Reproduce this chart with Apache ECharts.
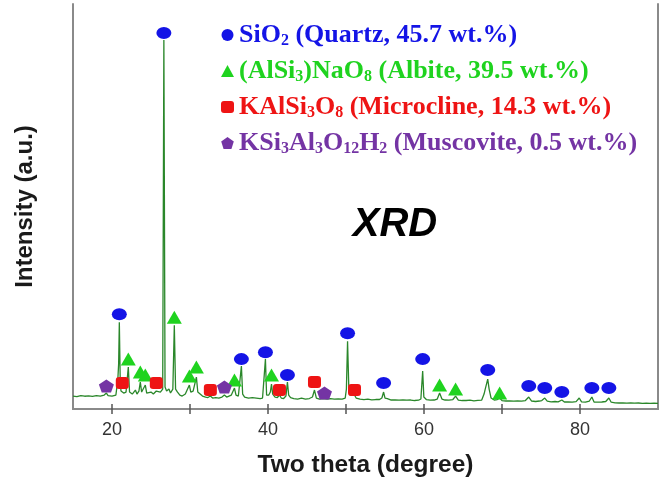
<!DOCTYPE html>
<html>
<head>
<meta charset="utf-8">
<title>XRD</title>
<script src="https://cdn.jsdelivr.net/npm/echarts@6/dist/echarts.min.js"></script>
<style>
  html, body { margin: 0; padding: 0; background: #fff; }
  #main { width: 666px; height: 483px; }
</style>
</head>
<body>
<div id="main"></div>
<script>
// measured XRD pattern, [2theta, intensity]
var trace = [
  [15.0,130],[15.5,125],[16.0,135],[16.5,128],[17.0,132],[17.5,126],[18.0,134],[18.5,128],
  [19.0,140],[19.28,160],[19.5,135],[20.0,128],[20.5,140],[20.75,300],[20.85,450],[20.94,870],
  [21.05,300],[21.15,180],[21.32,200],[21.5,160],[21.8,170],[22.09,420],[22.25,170],[22.6,150],
  [23.0,190],[23.2,150],[23.45,180],[23.63,270],[23.8,170],[24.0,200],[24.27,240],[24.45,160],
  [24.7,150],[25.0,170],[25.3,150],[25.68,180],[25.9,160],[26.2,170],[26.5,200],[26.65,3700],
  [26.8,220],[27.0,180],[27.3,200],[27.5,160],[27.8,200],[27.99,840],[28.15,200],[28.4,170],
  [28.7,140],[29.0,130],[29.4,150],[29.6,170],[29.92,240],[30.1,170],[30.4,180],[30.6,200],
  [30.82,320],[31.0,170],[31.3,150],[31.6,130],[32.0,120],[32.3,115],[32.61,130],[32.9,110],
  [33.3,115],[33.7,110],[34.1,120],[34.41,140],[34.7,120],[35.0,130],[35.3,140],[35.5,150],
  [35.7,210],[35.9,140],[36.2,130],[36.4,140],[36.59,430],[36.75,150],[37.0,120],[37.5,110],
  [38.0,115],[38.5,110],[39.0,105],[39.3,110],[39.5,130],[39.67,500],[39.82,140],[40.1,140],
  [40.3,170],[40.45,250],[40.6,150],[40.9,120],[41.2,115],[41.47,140],[41.7,110],[42.0,105],
  [42.3,130],[42.49,270],[42.65,140],[42.9,115],[43.3,105],[43.8,100],[44.3,108],[44.8,100],
  [45.3,105],[45.7,120],[45.96,190],[46.2,110],[46.6,100],[47.0,105],[47.24,110],[47.6,100],
  [48.0,104],[48.5,98],[49.0,102],[49.5,100],[49.9,110],[50.05,200],[50.2,680],[50.35,240],
  [50.5,140],[50.75,120],[51.09,140],[51.3,110],[51.8,100],[52.3,95],[52.8,98],[53.3,92],
  [53.8,95],[54.3,95],[54.6,110],[54.82,170],[55.0,110],[55.3,105],[55.8,90],[56.3,92],
  [56.8,88],[57.3,92],[57.8,88],[58.3,90],[58.8,85],[59.3,88],[59.6,100],[59.83,380],
  [59.98,120],[60.3,95],[60.8,88],[61.3,90],[61.7,100],[62.0,160],[62.3,100],[62.7,90],
  [63.2,88],[63.7,95],[64.05,130],[64.4,90],[64.9,85],[65.4,85],[65.9,88],[66.4,82],
  [66.9,86],[67.4,90],[67.7,150],[67.85,200],[68.0,220],[68.17,300],[68.35,200],[68.6,110],
  [69.0,90],[69.4,95],[69.7,110],[70.0,85],[70.5,80],[71.0,82],[71.5,78],[72.0,80],
  [72.5,78],[73.0,85],[73.43,120],[73.8,80],[74.3,75],[74.8,80],[75.1,85],[75.48,110],
  [75.8,78],[76.3,72],[76.8,75],[77.2,72],[77.67,90],[78.0,70],[78.5,72],[79.0,68],
  [79.5,74],[79.9,110],[80.2,72],[80.7,68],[81.2,80],[81.52,120],[81.8,70],[82.3,68],
  [82.8,70],[83.3,75],[83.7,110],[84.0,68],[84.5,62],[85.0,60],[85.5,62],[86.0,58],
  [86.5,60],[87.0,58],[87.5,60],[88.0,57],[88.5,58],[89.0,57],[89.5,58],[90.0,56]
];

// phase markers, [2theta, marker height]
var quartz = [[20.94,950],[26.65,3770],[36.59,500],[39.67,570],[42.49,340],[50.2,760],
  [54.82,260],[59.83,500],[68.17,390],[73.43,230],[75.48,210],[77.67,170],[81.52,210],[83.7,210]];
var albite = [[22.09,500],[23.63,370],[24.27,340],[27.99,920],[29.92,330],[30.82,420],
  [35.7,290],[40.45,340],[62.0,240],[64.05,200],[69.7,160]];
var microcline = [[21.32,260],[25.68,260],[32.61,190],[41.47,190],[45.96,270],[51.09,190]];
var muscovite = [[19.28,230],[34.41,220],[47.24,160]];

var phaseNames = ['Quartz', 'Albite', 'Microcline', 'Muscovite'];
var phaseLabels = [
  '{q|SiO}{qs|2}{q| (Quartz, 45.7 wt.%)}',
  '{a|(AlSi}{as|3}{a|)NaO}{as|8}{a| (Albite, 39.5 wt.%)}',
  '{m|KAlSi}{ms|3}{m|O}{ms|8}{m| (Microcline, 14.3 wt.%)}',
  '{k|KSi}{ks|3}{k|Al}{ks|3}{k|O}{ks|12}{k|H}{ks|2}{k| (Muscovite, 0.5 wt.%)}'
];
var xTicks = [20, 30, 40, 50, 60, 70, 80];
var xLabels = [20, 40, 60, 80];

var blue = '#1414e6', green = '#1fd31f', red = '#ee1414', purple = '#7434a4';
var pentagon = 'path://M0,-10L9.5,-3.1L5.9,8.1L-5.9,8.1L-9.5,-3.1Z';

function txt(c) {
  return { color: c, fontFamily: 'Liberation Serif', fontWeight: 'bold', fontSize: 26, lineHeight: 26 };
}
function sub(c) {
  return { color: c, fontFamily: 'Liberation Serif', fontWeight: 'bold', fontSize: 16, lineHeight: 16, padding: [12, 0, 0, 0] };
}

var frame = { show: true, lineStyle: { color: '#8a8a8a', width: 2 } };
var ticks = { show: true, inside: true, length: 5, customValues: xTicks, lineStyle: { color: '#555', width: 1.5 } };

var chart = echarts.init(document.getElementById('main'));
chart.setOption({
  animation: false,
  backgroundColor: '#fff',
  grid: { left: 73, right: 8, top: 4, bottom: 73 },
  legend: {
    orient: 'vertical', left: 216, top: 16,
    itemWidth: 13, itemHeight: 12, itemGap: 8,
    selectedMode: false,
    data: [
      { name: phaseNames[0], icon: 'circle' },
      { name: phaseNames[1], icon: 'triangle' },
      { name: phaseNames[2], icon: 'roundRect' },
      { name: phaseNames[3], icon: pentagon }
    ],
    formatter: function (name) { return phaseLabels[phaseNames.indexOf(name)]; },
    textStyle: {
      fontFamily: 'Liberation Serif', fontWeight: 'bold', fontSize: 26,
      rich: {
        q: txt(blue), qs: sub(blue), a: txt(green), as: sub(green),
        m: txt(red), ms: sub(red), k: txt(purple), ks: sub(purple)
      }
    }
  },
  graphic: [{
    type: 'text', x: 395, y: 225,
    style: {
      text: 'XRD', align: 'center', verticalAlign: 'middle',
      font: 'italic bold 40px "Liberation Sans"', fill: '#000'
    }
  }],
  xAxis: [{
    type: 'value', min: 15, max: 90, position: 'bottom',
    axisLine: frame, axisTick: ticks, splitLine: { show: false },
    axisLabel: { customValues: xLabels, margin: 12, fontSize: 18, color: '#333', fontFamily: 'Liberation Sans' },
    name: 'Two theta (degree)', nameLocation: 'middle', nameGap: 44,
    nameTextStyle: { fontSize: 24.5, fontWeight: 'bold', color: '#1a1a1a', fontFamily: 'Liberation Sans' }
  }, {
    type: 'value', min: 15, max: 90, position: 'top',
    axisLine: frame, axisTick: ticks, axisLabel: { show: false }, splitLine: { show: false }
  }],
  yAxis: [{
    type: 'value', min: 0, max: 4060, position: 'left',
    axisLine: frame, axisTick: { show: false }, axisLabel: { show: false }, splitLine: { show: false },
    name: 'Intensity (a.u.)', nameLocation: 'middle', nameGap: 36, nameRotate: 90,
    nameTextStyle: { fontSize: 24, fontWeight: 'bold', color: '#1a1a1a', fontFamily: 'Liberation Sans' }
  }, {
    type: 'value', min: 0, max: 4060, position: 'right',
    axisLine: frame, axisTick: { show: false }, axisLabel: { show: false }, splitLine: { show: false }
  }],
  series: [{
    type: 'line', data: trace, showSymbol: false, silent: true, z: 2,
    lineStyle: { color: '#2a872a', width: 1.3 }
  }, {
    name: phaseNames[0], type: 'scatter', data: quartz, z: 3,
    symbol: 'circle', symbolSize: [15, 12], itemStyle: { color: blue, opacity: 1 }
  }, {
    name: phaseNames[1], type: 'scatter', data: albite, z: 3,
    symbol: 'triangle', symbolSize: [15, 13], itemStyle: { color: green, opacity: 1 }
  }, {
    name: phaseNames[2], type: 'scatter', data: microcline, z: 3,
    symbol: 'roundRect', symbolSize: [13, 12], itemStyle: { color: red, opacity: 1 }
  }, {
    name: phaseNames[3], type: 'scatter', data: muscovite, z: 3,
    symbol: pentagon, symbolSize: [15, 13], itemStyle: { color: purple, opacity: 1 }
  }]
});
</script>
</body>
</html>
